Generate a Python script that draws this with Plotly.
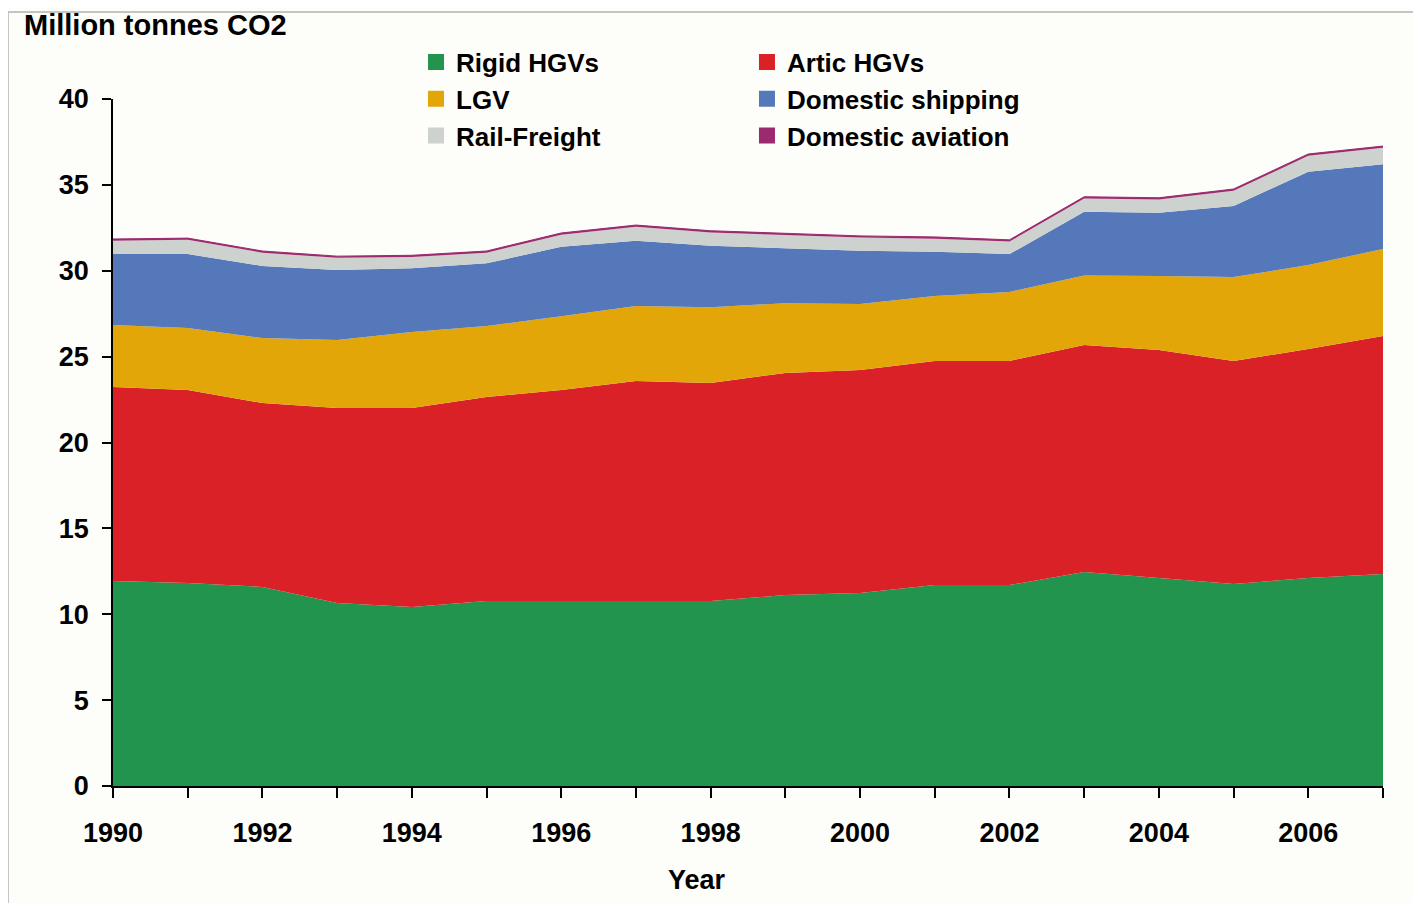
import plotly.graph_objects as go

years = list(range(1990, 2008))
rigid_hgvs = [11.94, 11.82, 11.59, 10.66, 10.42, 10.77, 10.77, 10.77, 10.77, 11.12, 11.24, 11.70, 11.70, 12.46, 12.11, 11.76, 12.11, 12.34]
artic_hgvs = [11.29, 11.24, 10.71, 11.35, 11.59, 11.88, 12.29, 12.81, 12.69, 12.93, 12.98, 13.05, 13.05, 13.22, 13.28, 12.99, 13.33, 13.86]
lgv = [3.61, 3.61, 3.78, 3.96, 4.42, 4.13, 4.29, 4.37, 4.42, 4.06, 3.84, 3.78, 4.02, 4.05, 4.31, 4.88, 4.89, 5.07]
domestic_shipping = [4.13, 4.30, 4.20, 4.07, 3.71, 3.65, 4.05, 3.80, 3.58, 3.20, 3.11, 2.57, 2.20, 3.71, 3.68, 4.14, 5.44, 4.93]
rail_freight = [0.78, 0.83, 0.77, 0.71, 0.66, 0.62, 0.70, 0.81, 0.77, 0.77, 0.76, 0.77, 0.73, 0.77, 0.77, 0.89, 0.93, 0.96]
domestic_aviation = [0.10] * 18

series = [
    ("Rigid HGVs", rigid_hgvs, "#23944D", "legend"),
    ("Artic HGVs", artic_hgvs, "#DA2128", "legend2"),
    ("LGV", lgv, "#E2A608", "legend"),
    ("Domestic shipping", domestic_shipping, "#5578BA", "legend2"),
    ("Rail-Freight", rail_freight, "#CDD2CF", "legend"),
    ("Domestic aviation", domestic_aviation, "#9C2A6F", "legend2"),
]

FONT = "Liberation Sans, Arial, sans-serif"

fig = go.Figure()
for name, vals, color, lg in series:
    lw = 1 if name == "Domestic aviation" else 0
    fig.add_trace(go.Scatter(
        x=years, y=vals, name=name, stackgroup="one", mode="lines",
        line=dict(width=lw, color=color), fillcolor=color, showlegend=False,
        hoverinfo="x+y+name",
    ))
# legend entries (square swatches)
for name, vals, color, lg in series:
    fig.add_trace(go.Scatter(
        x=[None], y=[None], name=name, mode="markers",
        marker=dict(symbol="square", size=20, color=color, line=dict(width=0)),
        legend=lg, showlegend=True,
    ))

fig.update_layout(
    width=1413, height=895,
    margin=dict(l=105, r=38, t=91, b=117),
    paper_bgcolor="#FDFDF9", plot_bgcolor="#FDFDF9",
    font=dict(family=FONT, size=27, color="black", weight="bold"),
    legend=dict(x=0.2386, xanchor="left", y=1.088, yanchor="top", traceorder="normal",
                bgcolor="rgba(0,0,0,0)", font=dict(size=26, weight="bold"),
                tracegroupgap=0, itemclick=False),
    legend2=dict(x=0.4992, xanchor="left", y=1.088, yanchor="top", traceorder="normal",
                 bgcolor="rgba(0,0,0,0)", font=dict(size=26, weight="bold"),
                 tracegroupgap=0, itemclick=False),
    xaxis=dict(
        range=[1990, 2007], tick0=1990, dtick=2, showgrid=False, zeroline=False,
        showline=True, linecolor="black", linewidth=1.5,
        ticks="outside", ticklen=10, tickcolor="black", tickwidth=1.5,
        ticklabelstandoff=12,
        minor=dict(dtick=1, ticks="outside", ticklen=10, tickcolor="black", tickwidth=1.5, showgrid=False),
        tickfont=dict(size=27, weight="bold"),
    ),
    yaxis=dict(
        range=[0, 40], tick0=0, dtick=5, showgrid=False, zeroline=False,
        showline=True, linecolor="black", linewidth=1.5,
        ticks="outside", ticklen=9, tickcolor="black", tickwidth=1.5,
        ticklabelstandoff=8,
        tickfont=dict(size=27, weight="bold"),
    ),
    annotations=[
        dict(text="Million tonnes CO2", x=-0.0716, y=1.108, xref="paper", yref="paper",
             xanchor="left", yanchor="middle", showarrow=False,
             font=dict(size=29, weight="bold")),
        dict(text="Year", x=0.46, y=-0.137, xref="paper", yref="paper",
             xanchor="center", yanchor="middle", showarrow=False,
             font=dict(size=27, weight="bold")),
    ],
    shapes=[
        dict(type="line", xref="paper", yref="paper", x0=-0.0827, x1=1.03, y0=1.1266, y1=1.1266,
             line=dict(color="#C4C4C4", width=2)),
        dict(type="line", xref="paper", yref="paper", x0=-0.0827, x1=-0.0827, y0=1.1266, y1=-0.18,
             line=dict(color="#C4C4C4", width=2)),
    ],
)

fig.write_html("out.html")
